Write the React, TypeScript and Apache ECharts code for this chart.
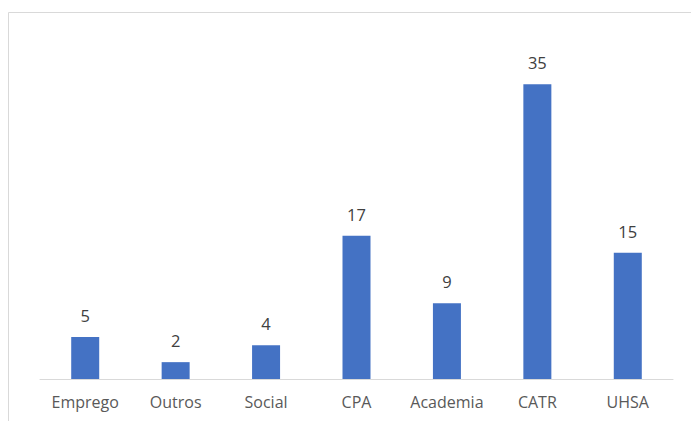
import React, { useEffect, useRef } from "react";
import * as echarts from "echarts";

const categories = ["Emprego", "Outros", "Social", "CPA", "Academia", "CATR", "UHSA"];
const values = [5, 2, 4, 17, 9, 35, 15];

export default function App() {
  const ref = useRef<HTMLDivElement>(null);
  useEffect(() => {
    const chart = echarts.init(ref.current!, null, { renderer: "svg" });
    chart.setOption({
      animation: false,
      backgroundColor: "#ffffff",
      graphic: [
        {
          type: "rect",
          shape: { x: 8.5, y: 12.5, width: 720, height: 440 },
          style: { fill: "none", stroke: "#d9d9d9", lineWidth: 1 },
          silent: true,
        },
      ],
      grid: { left: 40, right: 18, top: 42, bottom: 42 },
      xAxis: {
        type: "category",
        data: categories,
        axisLine: { lineStyle: { color: "#d9d9d9", width: 1 } },
        axisTick: { show: false },
        axisLabel: { color: "#595959", fontSize: 16, fontFamily: "Open Sans", margin: 15, interval: 0 },
      },
      yAxis: {
        type: "value",
        min: 0,
        max: 40,
        interval: 5,
        show: false,
        splitLine: { show: false },
      },
      series: [
        {
          type: "bar",
          data: values,
          barWidth: 28,
          itemStyle: { color: "#4472C4" },
          label: {
            show: true,
            position: "top",
            distance: 13,
            color: "#404040",
            fontSize: 16.5,
            fontFamily: "Open Sans",
          },
        },
      ],
    });
    return () => chart.dispose();
  }, []);
  return <div ref={ref} style={{ width: 691, height: 421, position: "absolute", left: 0, top: 0 }} />;
}
